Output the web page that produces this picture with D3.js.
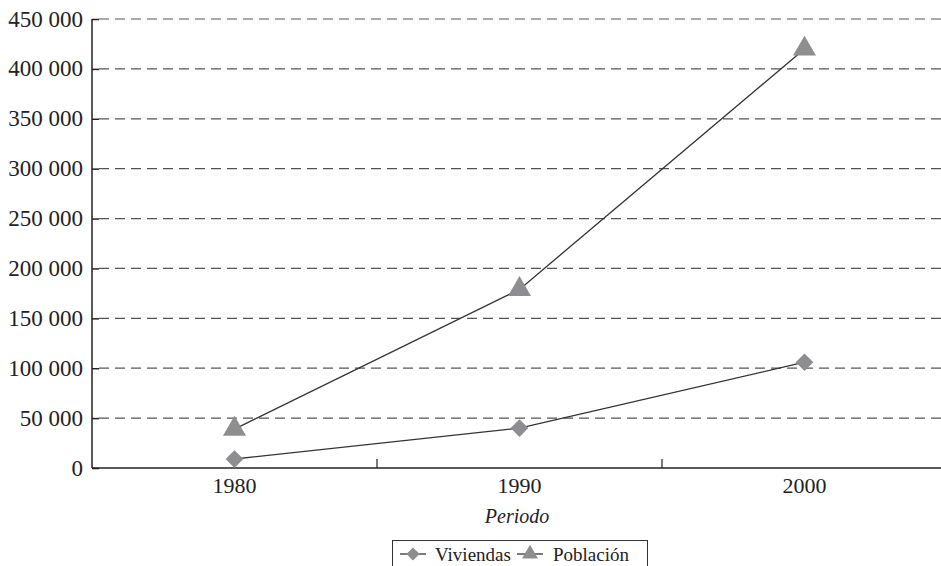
<!DOCTYPE html>
<html><head><meta charset="utf-8">
<script src="https://cdn.jsdelivr.net/npm/d3@7"></script>
<style>body{margin:0;background:#fff}svg{display:block}</style>
</head><body>
<svg id="c" width="941" height="566"></svg>
<script>
const categories = ["1980", "1990", "2000"];
const viviendas = [9000, 40000, 106000];
const poblacion = [39000, 179000, 420000];
const yTicks = [0, 50000, 100000, 150000, 200000, 250000, 300000, 350000, 400000, 450000];
const seriesNames = ["Viviendas", "Población"];

const FONT = "Liberation Serif";
const svg = d3.select("#c");
const L = 92, R = 947, T = 19, B = 468;
const x = d3.scaleBand().domain(categories).range([L, R]);
const y = d3.scaleLinear().domain([0, 450000]).range([B, T]);
const fmt = v => v === 0 ? "0" : d3.format(",")(v).replace(/,/g, " ");

// gridlines
svg.append("g").selectAll("line").data(yTicks.filter(d => d > 0)).join("line")
  .attr("x1", L + 7).attr("x2", 941).attr("y1", d => y(d)).attr("y2", d => y(d))
  .attr("stroke", "#555").attr("stroke-width", 1.2).attr("stroke-dasharray", "10,6");

// y axis
const ya = svg.append("g").attr("transform", `translate(${L},0)`)
  .call(d3.axisRight(y).tickValues(yTicks).tickSize(7).tickFormat(""));
ya.select(".domain").remove();
ya.selectAll("line").attr("stroke", "#222").attr("stroke-width", 1.5);
svg.append("line").attr("x1", L).attr("x2", L).attr("y1", T).attr("y2", B).attr("stroke", "#222").attr("stroke-width", 1.5);
svg.append("g").selectAll("text").data(yTicks).join("text")
  .attr("font-family", FONT)
  .attr("x", L - 9).attr("y", d => y(d)).attr("dy", "0.33em").attr("text-anchor", "end")
  .attr("font-size", 23).attr("fill", "#222").text(fmt);

// x axis
svg.append("line").attr("x1", L).attr("x2", 941).attr("y1", B).attr("y2", B).attr("stroke", "#222").attr("stroke-width", 1.5);
svg.append("g").selectAll("line").data(categories.slice(1)).join("line")
  .attr("x1", d => x(d)).attr("x2", d => x(d)).attr("y1", B).attr("y2", B - 9)
  .attr("stroke", "#222").attr("stroke-width", 1.2);
svg.append("g").selectAll("text").data(categories).join("text")
  .attr("font-family", FONT)
  .attr("x", d => x(d) + x.bandwidth() / 2).attr("y", B + 25).attr("text-anchor", "middle")
  .attr("font-size", 22).attr("fill", "#222").text(d => d);
svg.append("text").attr("font-family", FONT).attr("x", 517).attr("y", 523).attr("text-anchor", "middle")
  .attr("font-size", 20).attr("font-style", "italic").attr("fill", "#222").text("Periodo");

const cx = d => x(d) + x.bandwidth() / 2;
const line = d3.line().x(d => cx(d[0])).y(d => y(d[1]));
const diamond = d3.symbol().type(d3.symbolDiamond2).size(200);
const tri = d3.symbol().type(d3.symbolTriangle).size(230);
const markerFill = "#8e8e90";

[[viviendas, diamond], [poblacion, tri]].forEach(([vals, sym]) => {
  const pts = categories.map((c, i) => [c, vals[i]]);
  svg.append("path").attr("d", line(pts)).attr("fill", "none").attr("stroke", "#333").attr("stroke-width", 1.3);
  svg.append("g").selectAll("path").data(pts).join("path")
    .attr("transform", d => `translate(${cx(d[0])},${y(d[1])})`).attr("d", sym).attr("fill", markerFill);
});

// legend
const lg = svg.append("g");
lg.append("rect").attr("x", 392.5).attr("y", 540.5).attr("width", 255).attr("height", 40)
  .attr("fill", "#fff").attr("stroke", "#333").attr("stroke-width", 1);
const items = [
  {name: seriesNames[0], type: d3.symbolDiamond2, lx: 400, tx: 435},
  {name: seriesNames[1], type: d3.symbolTriangle, lx: 517, tx: 553}
];
items.forEach(it => {
  lg.append("line").attr("x1", it.lx).attr("x2", it.lx + 26).attr("y1", 554).attr("y2", 554).attr("stroke", "#333").attr("stroke-width", 1.3);
  lg.append("path").attr("transform", `translate(${it.lx + 13},554)`).attr("d", d3.symbol().type(it.type).size(110)).attr("fill", markerFill);
  lg.append("text").attr("font-family", FONT).attr("x", it.tx).attr("y", 554).attr("dy", "0.35em")
    .attr("font-size", 19).attr("fill", "#222").text(it.name);
});
</script>
</body></html>
